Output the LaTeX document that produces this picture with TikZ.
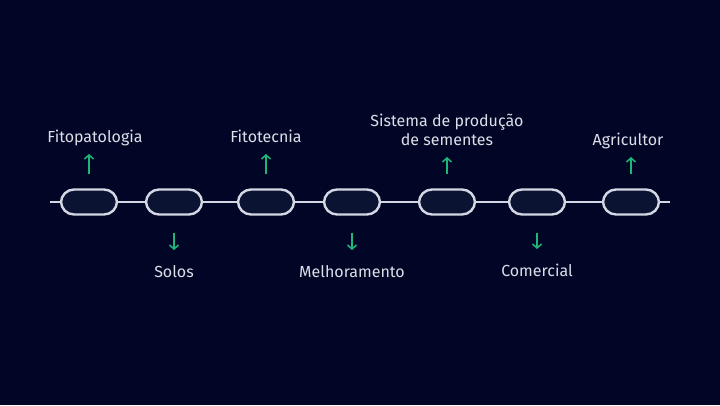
\documentclass[tikz,border=0pt]{standalone}
\usepackage{fontspec}
\setmainfont{Fira Sans}
\usetikzlibrary{arrows.meta}
\definecolor{bgblue}{HTML}{020626}
\definecolor{pillfill}{HTML}{0A1331}
\definecolor{pilledge}{HTML}{D4D7E3}
\definecolor{arrowgreen}{HTML}{1DB77A}
\definecolor{labeltext}{HTML}{DCDFE8}
\begin{document}
\begin{tikzpicture}[x=1pt,y=-1pt,
    pill/.style={draw=pilledge,fill=pillfill,line width=2.4pt,rounded corners=13pt,minimum width=56pt,minimum height=25pt,inner sep=0pt},
    track/.style={draw=pilledge,line width=2pt},
    lbl/.style={text=labeltext,font=\fontsize{16}{19}\selectfont,inner sep=0pt,anchor=base,align=center},
    up/.style={draw=arrowgreen,line width=1.5pt,-{Straight Barb[length=4pt,width=9pt]},shorten <=14pt,shorten >=12pt},
    down/.style={draw=arrowgreen,line width=1.5pt,-{Straight Barb[length=4pt,width=9pt]},shorten <=17pt,shorten >=27pt}]
        \fill[bgblue] (0,0) rectangle (720,405);

        % the chain
        \coordinate (start) at (50,202);
        \coordinate (end) at (670,202);
        \node[pill] at (89,202) (c1) {};
        \node[pill] at (174,202) (c2) {};
        \node[pill] at (266,202) (c3) {};
        \node[pill] at (352,202) (c4) {};
        \node[pill] at (447,202) (c5) {};
        \node[pill] at (537,202) (c6) {};
        \node[pill] at (631,202) (c7) {};

        \path[track]
            (start) edge (c1)
            (c1) edge (c2)
            (c2) edge (c3)
            (c3) edge (c4)
            (c4) edge (c5)
            (c5) edge (c6)
            (c6) edge (c7)
            (c7) edge (end)
            ;

        % labels
        \node[lbl] at (95,142) (l1) {Fitopatologia};
        \node[lbl] at (174,277) (l2) {Solos};
        \node[lbl] at (266,142) (l3) {Fitotecnia};
        \node[lbl] at (352,277) (l4) {Melhoramento};
        \node[lbl] at (447,145) (l5) {Sistema de produção\\de sementes};
        \node[lbl] at (537,276) (l6) {Comercial};
        \node[lbl] at (628,145) (l7) {Agricultor};

        \path
            (c1.north) edge[up] (c1.north |- l1.base)
            (c2.south) edge[down] (c2.south |- l2.base)
            (c3.north) edge[up] (c3.north |- l3.base)
            (c4.south) edge[down] (c4.south |- l4.base)
            (c5.north) edge[up] (c5.north |- l5.base)
            (c6.south) edge[down] (c6.south |- l6.base)
            (c7.north) edge[up] (c7.north |- l7.base)
            ;
\end{tikzpicture}
\end{document}
